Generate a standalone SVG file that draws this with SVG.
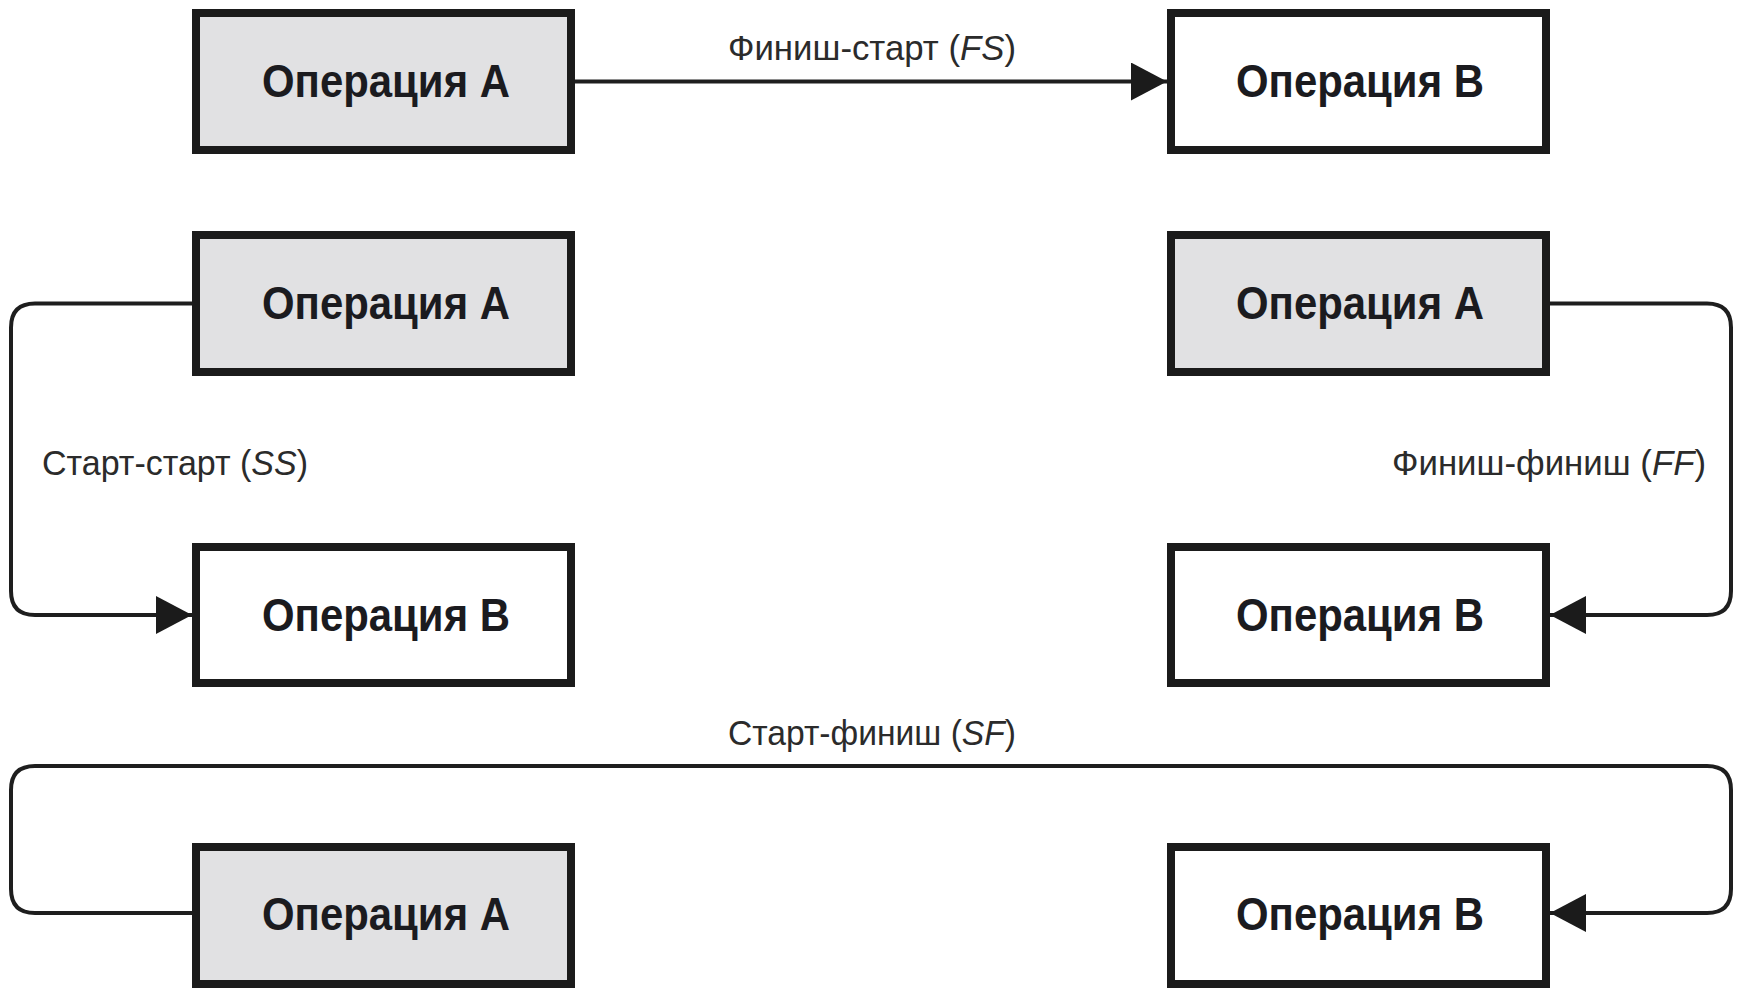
<svg xmlns="http://www.w3.org/2000/svg" width="1740" height="989" viewBox="0 0 1740 989">
  <style>
    .box { stroke: #1b1b1b; stroke-width: 8; }
    .gray { fill: #e1e1e3; }
    .white { fill: #ffffff; }
    .title { font-family: "Liberation Sans Narrow", "Liberation Sans", Arial, sans-serif; font-weight: bold; font-size: 47px; fill: #1b1b1f; text-anchor: middle; }
    .lbl { font-family: "Liberation Sans Narrow", "Liberation Sans", Arial, sans-serif; font-size: 35px; fill: #2b2b2b; }
    .conn { fill: none; stroke: #1e1e1e; stroke-width: 4; }
  </style>
  <defs>
    <marker id="arrow" markerUnits="userSpaceOnUse" markerWidth="36" markerHeight="38" viewBox="0 0 36 38" refX="36" refY="19" orient="auto">
      <path d="M0,0 L36,19 L0,38 Z" fill="#1b1b1b"/>
    </marker>
  </defs>
  <rect width="1740" height="989" fill="#ffffff"/>

  <!-- connectors -->
  <g id="connectors">
    <!-- finish-to-start -->
    <path class="conn" d="M575,81.5 L1167,81.5" marker-end="url(#arrow)"/>
    <text class="lbl" x="728" y="60" textLength="288" lengthAdjust="spacingAndGlyphs">Финиш-старт (<tspan font-style="italic">FS</tspan>)</text>
    <!-- start-to-start -->
    <path class="conn" d="M192,303.5 L35,303.5 Q11,303.5 11,327.5 L11,591 Q11,615 35,615 L192,615" marker-end="url(#arrow)"/>
    <text class="lbl" x="42" y="475" textLength="266" lengthAdjust="spacingAndGlyphs">Старт-старт (<tspan font-style="italic">SS</tspan>)</text>
    <!-- finish-to-finish -->
    <path class="conn" d="M1550,303.5 L1707,303.5 Q1731,303.5 1731,327.5 L1731,591 Q1731,615 1707,615 L1550,615" marker-end="url(#arrow)"/>
    <text class="lbl" x="1392" y="475" textLength="314" lengthAdjust="spacingAndGlyphs">Финиш-финиш (<tspan font-style="italic">FF</tspan>)</text>
    <!-- start-to-finish -->
    <path class="conn" d="M192,913 L35,913 Q11,913 11,889 L11,790 Q11,766 35,766 L1707,766 Q1731,766 1731,790 L1731,889 Q1731,913 1707,913 L1550,913" marker-end="url(#arrow)"/>
    <text class="lbl" x="728" y="745" textLength="288" lengthAdjust="spacingAndGlyphs">Старт-финиш (<tspan font-style="italic">SF</tspan>)</text>
  </g>

  <!-- row 1 -->
  <g id="fs-a">
    <rect class="box gray" x="196" y="13" width="375" height="137"/>
    <text class="title" x="386" y="97" textLength="248" lengthAdjust="spacingAndGlyphs">Операция А</text>
  </g>
  <g id="fs-b">
    <rect class="box white" x="1171" y="13" width="375" height="137"/>
    <text class="title" x="1360" y="97" textLength="248" lengthAdjust="spacingAndGlyphs">Операция В</text>
  </g>

  <!-- row 2 -->
  <g id="ss-a">
    <rect class="box gray" x="196" y="235" width="375" height="137"/>
    <text class="title" x="386" y="319" textLength="248" lengthAdjust="spacingAndGlyphs">Операция А</text>
  </g>
  <g id="ff-a">
    <rect class="box gray" x="1171" y="235" width="375" height="137"/>
    <text class="title" x="1360" y="319" textLength="248" lengthAdjust="spacingAndGlyphs">Операция А</text>
  </g>

  <!-- row 3 -->
  <g id="ss-b">
    <rect class="box white" x="196" y="547" width="375" height="136"/>
    <text class="title" x="386" y="631" textLength="248" lengthAdjust="spacingAndGlyphs">Операция В</text>
  </g>
  <g id="ff-b">
    <rect class="box white" x="1171" y="547" width="375" height="136"/>
    <text class="title" x="1360" y="631" textLength="248" lengthAdjust="spacingAndGlyphs">Операция В</text>
  </g>

  <!-- row 4 -->
  <g id="sf-a">
    <rect class="box gray" x="196" y="847" width="375" height="137"/>
    <text class="title" x="386" y="930" textLength="248" lengthAdjust="spacingAndGlyphs">Операция А</text>
  </g>
  <g id="sf-b">
    <rect class="box white" x="1171" y="847" width="375" height="137"/>
    <text class="title" x="1360" y="930" textLength="248" lengthAdjust="spacingAndGlyphs">Операция В</text>
  </g>
</svg>
